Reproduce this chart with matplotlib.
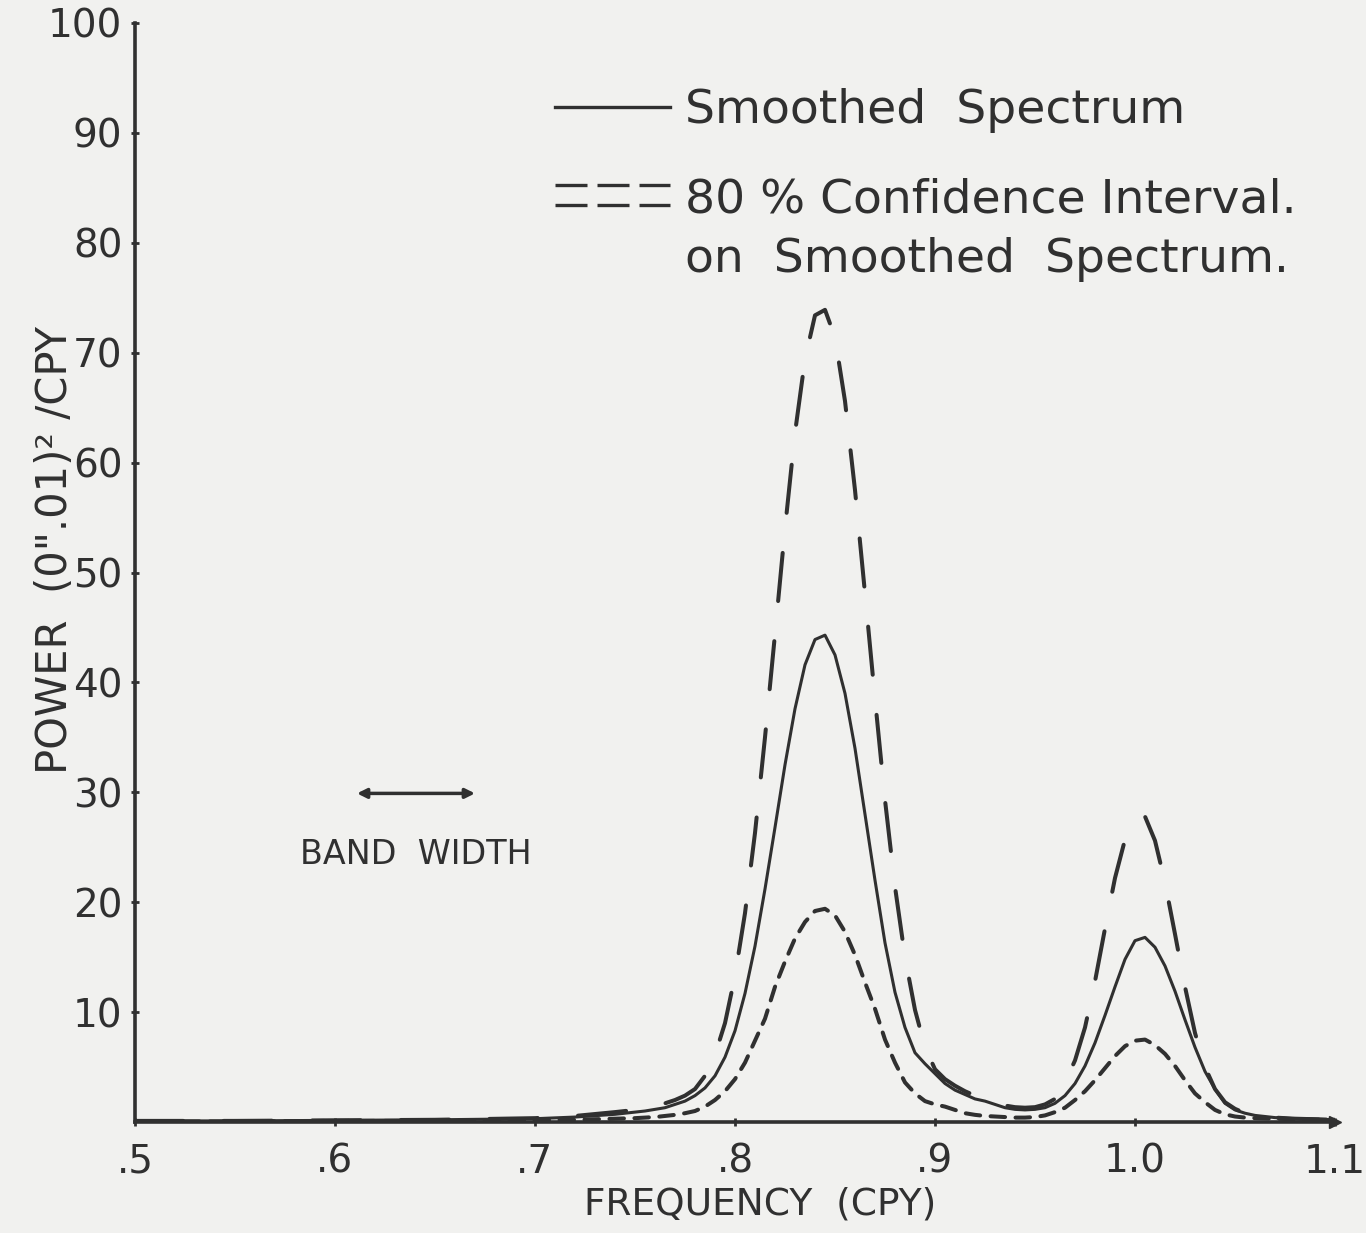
import matplotlib
matplotlib.use("Agg")
import matplotlib.pyplot as plt

# ---------------- data ----------------
freq = [0.50, 0.55, 0.60, 0.65, 0.70, 0.72, 0.74,
        0.750, 0.755, 0.760, 0.765, 0.770, 0.775, 0.780, 0.785, 0.790, 0.795,
        0.800, 0.805, 0.810, 0.815, 0.820, 0.825, 0.830, 0.835, 0.840, 0.845,
        0.850, 0.855, 0.860, 0.865, 0.870, 0.875, 0.880, 0.885, 0.890, 0.895,
        0.900, 0.905, 0.910, 0.915, 0.920, 0.925, 0.930, 0.935, 0.940, 0.945,
        0.950, 0.955, 0.960, 0.965, 0.970, 0.975, 0.980, 0.985, 0.990, 0.995,
        1.000, 1.005, 1.010, 1.015, 1.020, 1.025, 1.030, 1.035, 1.040, 1.045,
        1.050, 1.055, 1.060, 1.07, 1.08, 1.10]

smoothed = [0.1, 0.1, 0.15, 0.2, 0.3, 0.45, 0.7,
            0.9, 1.0, 1.15, 1.3, 1.6, 1.9, 2.4, 3.1, 4.2, 5.9,
            8.3, 11.7, 16.0, 21.2, 26.8, 32.5, 37.6, 41.6, 43.9, 44.3,
            42.5, 39.0, 34.0, 28.0, 22.0, 16.3, 11.8, 8.6, 6.3, 5.3,
            4.4, 3.5, 2.9, 2.5, 2.1, 1.9, 1.6, 1.3, 1.15, 1.1,
            1.15, 1.3, 1.7, 2.4, 3.5, 5.1, 7.2, 9.7, 12.3, 14.8,
            16.5, 16.8, 15.9, 14.2, 11.9, 9.3, 6.8, 4.6, 3.0, 1.7,
            1.1, 0.8, 0.6, 0.4, 0.3, 0.2]

ci_upper = [0.1, 0.1, 0.15, 0.2, 0.35, 0.55, 0.9,
            1.1, 1.25, 1.45, 1.7, 2.0, 2.4, 3.0, 4.2, 6.1, 9.0,
            13.3, 19.0, 26.3, 35.0, 44.4, 54.0, 62.7, 69.4, 73.4, 73.9,
            71.4, 65.6, 57.5, 48.1, 38.5, 29.3, 21.4, 15.0, 10.2, 6.8,
            4.8, 3.9, 3.3, 2.8, 2.4, 2.0, 1.7, 1.5, 1.35, 1.3,
            1.35, 1.6, 2.1, 3.6, 5.6, 8.6, 12.8, 17.6, 22.2, 25.7,
            27.7, 27.8, 25.6, 21.8, 17.1, 12.3, 8.1, 5.0, 3.0, 1.8,
            1.2, 0.8, 0.6, 0.4, 0.3, 0.2]

ci_lower = [0.05, 0.05, 0.1, 0.1, 0.15, 0.2, 0.3,
            0.35, 0.4, 0.45, 0.55, 0.65, 0.8, 1.0, 1.4, 2.0, 2.8,
            3.9, 5.4, 7.4, 9.4, 12.3, 14.6, 16.7, 18.2, 19.2, 19.4,
            18.8, 17.3, 15.2, 12.7, 10.3, 7.5, 5.4, 3.6, 2.6, 1.9,
            1.6, 1.4, 1.1, 0.8, 0.65, 0.55, 0.5, 0.45, 0.4, 0.4,
            0.45, 0.6, 0.9, 1.3, 2.0, 2.8, 3.8, 4.9, 6.0, 6.9,
            7.4, 7.5, 7.0, 6.2, 5.1, 3.8, 2.6, 1.8, 1.1, 0.7,
            0.5, 0.4, 0.35, 0.3, 0.25, 0.2]

x_ticks = [0.5, 0.6, 0.7, 0.8, 0.9, 1.0, 1.1]
x_tick_labels = [".5", ".6", ".7", ".8", ".9", "1.0", "1.1"]
y_ticks = [10, 20, 30, 40, 50, 60, 70, 80, 90, 100]
y_tick_labels = ["10", "20", "30", "40", "50", "60", "70", "80", "90", "100"]

band_width = [0.611, 0.670]      # frequency span of the band-width arrow
band_level = 29.9

# ---------------- style ----------------
INK = "#303030"
PAPER = "#f1f1ef"
plt.rcParams["font.family"] = ["DejaVu Sans"]

fig = plt.figure(figsize=(13.66, 12.33), dpi=100, facecolor=PAPER)
ax = fig.add_axes([135 / 1366, 111 / 1233, 1200 / 1366, 1099 / 1233])
ax.set_facecolor(PAPER)

ax.plot(freq, smoothed, color=INK, lw=2.2, solid_capstyle="round",
        solid_joinstyle="round")
ax.plot(freq, ci_upper, color=INK, lw=2.9, linestyle=(0, (12, 10)),
        dash_capstyle="round", dash_joinstyle="round")
ax.plot(freq, ci_lower, color=INK, lw=2.9, linestyle=(0, (3.6, 2.6)),
        dash_capstyle="round", dash_joinstyle="round")

ax.set_xlim(0.5, 1.1)
ax.set_ylim(0, 100)

for s in ["top", "right"]:
    ax.spines[s].set_visible(False)
for s in ["left", "bottom"]:
    ax.spines[s].set_linewidth(2.6)
    ax.spines[s].set_color(INK)

ax.set_xticks(x_ticks)
ax.set_xticklabels(x_tick_labels)
ax.set_yticks(y_ticks)
ax.set_yticklabels(y_tick_labels)
ax.tick_params(axis="both", direction="inout", length=6, width=2,
               colors=INK, labelsize=28)
ax.tick_params(axis="x", pad=12)
ax.tick_params(axis="y", pad=6)

# arrow head at end of x axis
ax.plot([1.1], [0], marker=">", color=INK, markersize=9, clip_on=False)

# axis titles
fig.text(760 / 1366, 1 - 1205 / 1233, "FREQUENCY  (CPY)", ha="center",
         va="center", fontsize=27, color=INK)
fig.text(55 / 1366, 1 - 550 / 1233, 'POWER  (0".01)² /CPY', ha="center",
         va="center", rotation=90, fontsize=30, color=INK)

# legend (drawn by hand like the original)
ax.plot([0.71, 0.7675], [92.4, 92.4], color=INK, lw=2.4)
ax.text(0.775, 90.9, "Smoothed  Spectrum", fontsize=34, color=INK,
        va="baseline", ha="left")
ax.plot([0.71, 0.7675], [85.3, 85.3], color=INK, lw=2.4,
        linestyle=(0, (9.6, 3.0)))
ax.plot([0.71, 0.7675], [83.4, 83.4], color=INK, lw=2.4,
        linestyle=(0, (9.6, 3.0)))
ax.text(0.775, 82.8, "80 % Confidence Interval.", fontsize=34, color=INK,
        va="baseline", ha="left")
ax.text(0.775, 77.3, "on  Smoothed  Spectrum.", fontsize=34, color=INK,
        va="baseline", ha="left")

# band width marker
ax.annotate("", xy=(band_width[1], band_level), xytext=(band_width[0], band_level),
            arrowprops=dict(arrowstyle="<|-|>", color=INK, lw=2.5,
                            mutation_scale=14, shrinkA=0, shrinkB=0))
ax.text(sum(band_width) / 2, 24.3, "BAND  WIDTH", fontsize=24, color=INK,
        ha="center", va="center")

fig.savefig("out.png", dpi=100, facecolor=PAPER)
